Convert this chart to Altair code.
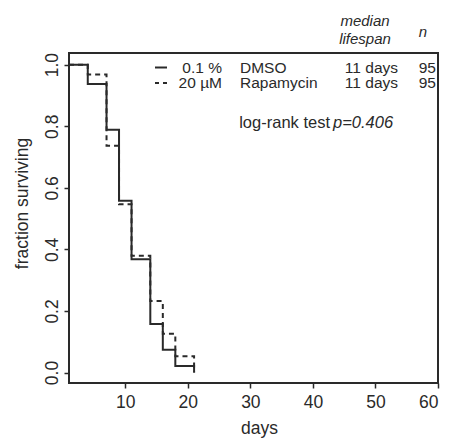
import altair as alt
import pandas as pd

# Kaplan-Meier step data
days = [1, 4, 7, 9, 11, 14, 16, 18, 21]
dmso = [1.0, 0.937, 0.789, 0.558, 0.368, 0.158, 0.074, 0.021, 0.0]
rapa = [1.0, 0.968, 0.737, 0.547, 0.379, 0.232, 0.126, 0.053, 0.0]
x_ticks = [10, 20, 30, 40, 50, 60]
y_ticks = [0.0, 0.2, 0.4, 0.6, 0.8, 1.0]

df = pd.DataFrame(
    {"days": days + days,
     "surv": dmso + rapa,
     "group": ["DMSO"] * len(days) + ["Rapamycin"] * len(days)}
)

FONT = "Liberation Sans"
INK = "#2a2a2a"
W, H = 369, 330

xs = alt.Scale(domain=[1, 60], nice=False, zero=False)
ys = alt.Scale(domain=[-0.034, 1.038], nice=False, zero=False)

lines = alt.Chart(df).mark_line(interpolate="step-after", strokeWidth=2, color=INK).encode(
    x=alt.X("days:Q", scale=xs,
            axis=alt.Axis(values=x_ticks, title="days", grid=False, domain=False,
                          tickSize=5, tickColor=INK, tickWidth=1.5,
                          labelFont=FONT, labelFontSize=17.5, labelColor=INK, labelPadding=5,
                          titleFont=FONT, titleFontSize=17.5, titleFontWeight="normal",
                          titleColor=INK, titleX=190, titleY=45, titleBaseline="middle")),
    y=alt.Y("surv:Q", scale=ys,
            axis=alt.Axis(values=y_ticks, format=".1f", title="fraction surviving",
                          grid=False, domain=False, tickSize=5, tickColor=INK, tickWidth=1.5,
                          labelAngle=270, labelAlign="center", labelBaseline="bottom",
                          labelFont=FONT, labelFontSize=17.5, labelColor=INK, labelPadding=3,
                          titleFont=FONT, titleFontSize=17.5, titleFontWeight="normal",
                          titleColor=INK, titleAngle=270, titleX=-47, titleY=150,
                          titleAlign="center", titleBaseline="middle")),
    strokeDash=alt.StrokeDash("group:N", legend=None,
                              scale=alt.Scale(domain=["DMSO", "Rapamycin"],
                                              range=[[1, 0], [5, 4]])),
    detail="group:N",
)

def txt(s, x, y, align="left", style="normal", size=15.5):
    return alt.Chart(pd.DataFrame({"t": [s]})).mark_text(
        font=FONT, fontSize=size, fontStyle=style, color=INK, align=align,
        baseline="middle").encode(text="t:N", x=alt.value(x), y=alt.value(y))

R1, R2 = 14.5, 30
leg_solid = alt.Chart(pd.DataFrame({"a": [0]})).mark_rule(color=INK, strokeWidth=2).encode(
    x=alt.value(86), x2=alt.value(98), y=alt.value(R1))
leg_dash = alt.Chart(pd.DataFrame({"a": [0]})).mark_rule(color=INK, strokeWidth=2,
                                                           strokeDash=[4, 4]).encode(
    x=alt.value(86), x2=alt.value(98), y=alt.value(R2))

texts = [
    txt("median", 296, -32, "center", "italic", 15),
    txt("lifespan", 296, -14.5, "center", "italic", 15),
    txt("n", 354, -21, "center", "italic", 15),
    txt("0.1 %", 153, R1, "right"),
    txt("20 µM", 153, R2, "right"),
    txt("DMSO", 171, R1),
    txt("Rapamycin", 171, R2),
    txt("11 days", 329, R1, "right"),
    txt("11 days", 329, R2, "right"),
    txt("95", 367, R1, "right"),
    txt("95", 367, R2, "right"),
    txt("log-rank test", 261, 70, "right", "normal", 16.5),
    txt("p=0.406", 264, 70, "left", "italic", 16.5),
]

chart = alt.layer(lines, leg_solid, leg_dash, *texts).properties(
    width=W, height=H,
    autosize=alt.AutoSizeParams(type="none"),
    padding={"left": 69, "top": 53, "right": 14, "bottom": 56},
    background="white",
).configure_view(stroke=INK, strokeWidth=2)

chart.save("out.html", embed_options={"renderer": "svg", "actions": False})
